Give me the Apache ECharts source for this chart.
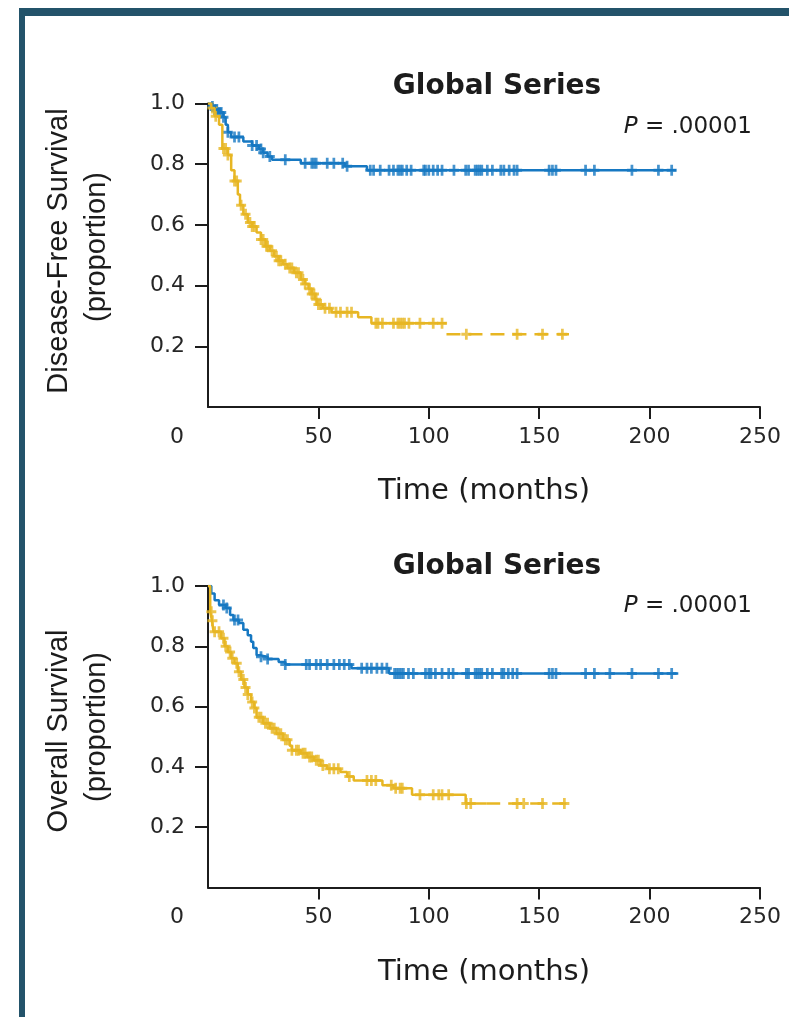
<!DOCTYPE html>
<html><head><meta charset="utf-8">
<script src="https://cdn.jsdelivr.net/npm/echarts@6/dist/echarts.min.js"></script>
<style>html,body{margin:0;padding:0;background:#fff}#c{width:789px;height:1017px}</style>
</head><body><div id="c"></div>
<script>
// ---- tick labels / text ----
const xTickValues = [0, 50, 100, 150, 200, 250];
const xTickMarks = [50, 100, 150, 200, 250];
const yTickValues = [0.2, 0.4, 0.6, 0.8, 1.0];
const chartTitles = ['Global Series', 'Global Series'];
const pValues = ['.00001', '.00001'];
const yAxisTitles = [['Disease-Free Survival', '(proportion)'], ['Overall Survival', '(proportion)']];
const xAxisTitle = 'Time (months)';

// ---- Disease-free survival (top) ----
const dfsBlueSteps = [[0,1.0],[2,0.99],[3,0.98],[5,0.97],[7,0.955],[8,0.93],[9,0.905],[10.5,0.89],[16,0.875],[20,0.862],[23,0.85],[25,0.838],[27,0.825],[29,0.815],[42,0.803],[62,0.793],[72,0.78],[212,0.78]];
const dfsBlueCensored = [2,3,4,5,6,7,9,12,14,20,22,24,25,28,35,44,47,48,49,54,57,61,63,73.5,75,78,82,84,86,87,88,90,92,97.7,98.5,100,102,104,106,111.4,116.7,118,121,122,123,124,126.5,128.8,132.6,134,136.4,138.6,140,154.5,156,157.6,171,175,192,204,210];
const dfsYellowSteps = [[0,1.0],[1.5,0.985],[3,0.958],[5,0.93],[6.5,0.852],[9,0.83],[10.5,0.78],[12,0.745],[13.5,0.7],[14.5,0.665],[16,0.635],[18,0.608],[20,0.595],[22,0.575],[24,0.552],[26,0.53],[28,0.515],[30,0.497],[32,0.482],[34,0.47],[36,0.458],[39,0.442],[42,0.42],[44,0.405],[45.5,0.39],[47,0.372],[48.5,0.355],[49.5,0.338],[52,0.325],[56,0.312],[68,0.296],[74,0.276],[108,0.24],[163.5,0.24]];
const dfsYellowDashFrom = 108;
const dfsYellowCensored = [2,3.5,7,8,9,12,13,15,17,19,20,21,24,25,26.5,27,29,31,32,33,35,37,38,40,41,43,44,46,47,48,49,50,51,53,55,58,60,63,65,76,77,79,84,86,87,88,89,91,96,102,106,117,140,151.5,160.5];

// ---- Overall survival (bottom) ----
const osBlueSteps = [[0,1.0],[1.5,0.975],[3,0.953],[5,0.937],[8,0.927],[10,0.904],[11.5,0.887],[14,0.877],[16,0.855],[18,0.837],[19.5,0.815],[20.5,0.794],[22,0.77],[24,0.765],[27,0.758],[32,0.748],[35,0.74],[65,0.727],[82,0.71],[213,0.71]];
const osBlueCensored = [7,8.5,12,13.6,24,27,35,44.5,46,49,51,54,57,59.5,61.7,64,69.6,72,74,76.5,78.8,81,84.5,85.5,86.5,87.5,88.5,90.8,93,98.5,100,101,103,106,109,111,117,118,121,122,123,124,126.5,128.8,133,134,136,138,140,154.5,156,157.6,171,175,182,192,204,210];
const osYellowSteps = [[0,1.0],[1,0.915],[1.8,0.885],[2.5,0.848],[6,0.827],[7.5,0.8],[9,0.781],[10.5,0.76],[12,0.744],[13.5,0.716],[15,0.69],[16.5,0.663],[18,0.64],[19.5,0.615],[21,0.595],[22,0.565],[25,0.545],[28,0.528],[31,0.51],[34,0.49],[37,0.47],[38,0.455],[42,0.445],[45,0.433],[48,0.422],[51,0.405],[54,0.394],[60,0.383],[63,0.368],[66,0.355],[79,0.339],[84,0.329],[92.4,0.308],[116.7,0.279],[165,0.279]];
const osYellowDashFrom = 126;
const osYellowCensored = [1.5,2,3,5,7,8,10,11,13,14,16,17,18,20,21,23,24,26,27,29,30,32,33,35,36,38,40,41,43,44,46,47,49,50,52,55,57,59,64,72,74,76,83,85,87,88,96,102,104.5,106,109,117,119,140,143,151.5,161.4];

const BLUE = '#1678c2';
const YELLOW = '#e7b623';
const INK = '#1c1c1c';
const PLUS = 'path://M4,0L7,0L7,4L11,4L11,7L7,7L7,11L4,11L4,7L0,7L0,4L4,4Z';

function valueAt(steps, t) {
  let v = steps[0][1];
  for (const p of steps) { if (p[0] <= t) v = p[1]; else break; }
  return v;
}
function splitAt(steps, from) {
  const solid = steps.filter(p => p[0] < from);
  solid.push([from, solid[solid.length - 1][1]]);
  const dashed = [[from, valueAt(steps, from)]].concat(steps.filter(p => p[0] > from));
  return [solid, dashed];
}

const grids = [
  { left: 208, top: 103.5, width: 552, height: 303.5 },
  { left: 208, top: 586, width: 552, height: 301.5 }
];

function makeX(i) {
  return {
    gridIndex: i, type: 'value', min: 0, max: 250,
    name: xAxisTitle, nameLocation: 'middle', nameGap: 70,
    nameTextStyle: { fontSize: 29, fontFamily: 'DejaVu Sans', color: INK },
    axisLine: { onZero: false, lineStyle: { color: INK, width: 2 } },
    axisTick: { show: true, length: 12, customValues: xTickMarks, lineStyle: { color: INK, width: 2 } },
    axisLabel: {
      customValues: xTickValues, margin: 19, fontSize: 22, fontFamily: 'DejaVu Sans', color: '#262626',
      formatter: v => v === 0 ? '{z|0}' : String(v),
      rich: { z: { fontSize: 22, fontFamily: 'DejaVu Sans', color: '#262626', padding: [0, 62, 0, 0] } }
    },
    splitLine: { show: false }
  };
}
function makeY(i) {
  return {
    gridIndex: i, type: 'value', min: 0, max: 1,
    axisLine: { show: true, onZero: false, lineStyle: { color: INK, width: 2 } },
    axisTick: { show: true, length: 13, customValues: yTickValues, lineStyle: { color: INK, width: 2 } },
    axisLabel: { customValues: yTickValues, margin: 23, fontSize: 22, fontFamily: 'DejaVu Sans', color: '#262626', formatter: v => v.toFixed(1) },
    splitLine: { show: false }
  };
}

function kmSeries(i, steps, censored, color, dashFrom) {
  const out = [];
  let solid = steps, dashed = null;
  if (dashFrom != null) { const s = splitAt(steps, dashFrom); solid = s[0]; dashed = s[1]; }
  out.push({ type: 'line', xAxisIndex: i, yAxisIndex: i, step: 'end', data: solid, showSymbol: false, symbol: 'none',
    lineStyle: { color, width: 2.5 }, animation: false, silent: true });
  if (dashed) out.push({ type: 'line', xAxisIndex: i, yAxisIndex: i, step: 'end', data: dashed, showSymbol: false, symbol: 'none',
    lineStyle: { color, width: 2.5, type: [14, 8] }, animation: false, silent: true });
  out.push({ type: 'scatter', xAxisIndex: i, yAxisIndex: i, data: censored.map(t => [t, valueAt(steps, t)]),
    symbol: PLUS, symbolSize: [10, 11], itemStyle: { color }, animation: false, silent: true });
  return out;
}

const series = [].concat(
  kmSeries(0, dfsBlueSteps, dfsBlueCensored, BLUE, null),
  kmSeries(0, dfsYellowSteps, dfsYellowCensored, YELLOW, dfsYellowDashFrom),
  kmSeries(1, osBlueSteps, osBlueCensored, BLUE, null),
  kmSeries(1, osYellowSteps, osYellowCensored, YELLOW, osYellowDashFrom)
);

const titleY = [87, 567];
const pY = [127, 606];
const yTitleCenter = [251, 731];
const graphic = [
  { type: 'rect', shape: { x: 19, y: 8, width: 770, height: 8 }, style: { fill: '#23536a' } },
  { type: 'rect', shape: { x: 19, y: 8, width: 6, height: 1009 }, style: { fill: '#23536a' } }
];
for (let i = 0; i < 2; i++) {
  graphic.push({ type: 'text', x: 497, y: titleY[i], style: { text: chartTitles[i], font: 'bold 28px "DejaVu Sans"', fill: INK, align: 'center', verticalAlign: 'middle' } });
  graphic.push({ type: 'text', x: 752, y: pY[i], style: { text: '{i|P} = ' + pValues[i], font: '23px "DejaVu Sans"', fill: INK, align: 'right', verticalAlign: 'middle',
    rich: { i: { fontStyle: 'italic', fontSize: 23, fontFamily: 'DejaVu Sans', fill: INK } } } });
  graphic.push({ type: 'text', x: 59, y: yTitleCenter[i], rotation: Math.PI / 2, style: { text: yAxisTitles[i][0], font: '29px "Liberation Sans"', fill: INK, align: 'center', verticalAlign: 'middle' } });
  graphic.push({ type: 'text', x: 97, y: yTitleCenter[i] - 4, rotation: Math.PI / 2, style: { text: yAxisTitles[i][1], font: '29px "Liberation Sans"', fill: INK, align: 'center', verticalAlign: 'middle' } });
}

const chart = echarts.init(document.getElementById('c'), null, { renderer: 'canvas' });
chart.setOption({
  backgroundColor: '#fff',
  animation: false,
  grid: grids.map(g => Object.assign({ containLabel: false, outerBoundsMode: 'none' }, g)),
  xAxis: [makeX(0), makeX(1)],
  yAxis: [makeY(0), makeY(1)],
  series,
  graphic
});
</script></body></html>
